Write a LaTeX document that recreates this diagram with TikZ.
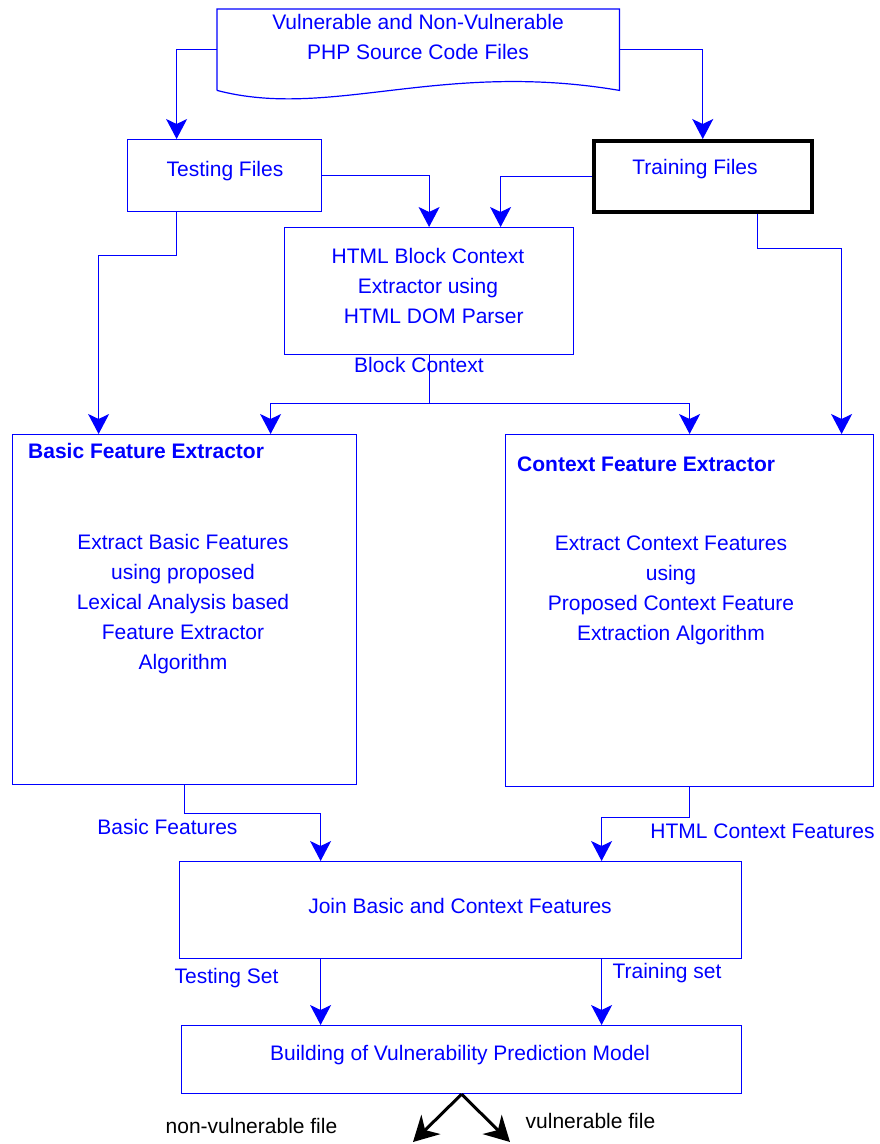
\documentclass[tikz,border=0pt]{standalone}
\usepackage{fontspec}
\setmainfont{Liberation Sans}
\usetikzlibrary{arrows.meta,calc}
\definecolor{fblue}{RGB}{0,0,255}
\begin{document}
\begin{tikzpicture}[x=1pt,y=-1pt,
  font=\fontsize{21}{30}\selectfont,
  box/.style={draw=fblue, line width=1.2pt, rectangle, inner sep=0pt, anchor=north west, text=fblue, align=center},
  txt/.style={text=fblue, inner sep=0pt, align=center},
  btxt/.style={text=black, inner sep=0pt, align=center},
  arr/.style={draw=fblue, line width=1.2pt, -{Stealth[length=20pt,width=21pt,inset=5pt]}},
  blk/.style={draw=black, line width=3pt, -{Stealth[length=25pt,width=27pt,inset=8pt]}}]
\useasboundingbox (0,0) rectangle (880,1144);

% document shape
\node[draw=none, inner sep=0pt, minimum width=402pt, minimum height=81pt, anchor=north west] (doc) at (217,9) {};
\draw[fblue, line width=1.2pt] (doc.south west) -- (doc.north west) -- (doc.north east) -- (doc.south east)
  .. controls (440,60) and (330,120) .. (doc.south west);
\node[txt] (doctext) at (418,37) {Vulnerable and Non-Vulnerable\\PHP Source Code Files};

% boxes
\node[box, minimum width=194pt, minimum height=72pt] (test) at (127,139) {};
\node[box, draw=black, line width=3.5pt, minimum width=218pt, minimum height=71pt] (train) at (592,139) {};
\node[box, minimum width=289pt, minimum height=127pt] (block) at (284,227) {};
\node[box, minimum width=344pt, minimum height=350pt] (basic) at (12,434) {};
\node[box, minimum width=368pt, minimum height=352pt] (ctx) at (505,434) {};
\node[box, minimum width=562pt, minimum height=97pt] (join) at (179,861) {};
\node[box, minimum width=560pt, minimum height=68pt] (build) at (181,1025) {};

% texts inside the boxes
\node[txt] (testtext) at (225,171) {Testing Files};
\node[txt] (traintext) at (695,169) {Training Files};
\node[txt] (blocktext) at (428,286) {HTML Block Context\\Extractor using\\\ \ HTML DOM Parser};
\node[txt] (jointext) at (460,906) {Join Basic and Context Features};
\node[txt] (buildtext) at (460,1055) {Building of Vulnerability Prediction Model};
\node[txt, anchor=west, font=\fontsize{21}{30}\selectfont\bfseries] (basictitle) at (28,451) {Basic Feature Extractor};
\node[txt] (basicbody) at (183,604) {Extract Basic Features\\using proposed\\Lexical Analysis based\\Feature Extractor\\Algorithm};
\node[txt, anchor=west, font=\fontsize{21}{30}\selectfont\bfseries] (ctxtitle) at (517,464) {Context Feature Extractor};
\node[txt] (ctxbody) at (671,590) {Extract Context Features\\using\\Proposed Context Feature\\Extraction Algorithm};

% connectors
\draw[arr] (doc.west) -| ([xshift=-48pt]test.north);
\draw[arr] (doc.east) -| (train.north);
\draw[arr] (test.east) -| (block.north);
\draw[arr] (train.west) -| ([xshift=71.5pt]block.north);
\draw[arr] ([xshift=-48pt]test.south) -- ++(0,43) -| ([xshift=-86pt]basic.north);
\draw[arr] ([xshift=55pt]train.south) -- ++(0,35) -| ([xshift=152pt]ctx.north);
\draw[arr] (block.south) -- ++(0,48) coordinate (split) -| ([xshift=86pt]basic.north);
\draw[arr] (split) -| (ctx.north);
\draw[arr] (basic.south) -- ++(0,28) -| ([xshift=-140pt]join.north);
\draw[arr] (ctx.south) -- ++(0,30) -| ([xshift=141pt]join.north);
\draw[arr] ([xshift=-140pt]join.south) -- ([xshift=-140pt]join.south |- build.north);
\draw[arr] ([xshift=141pt]join.south) -- ([xshift=141pt]join.south |- build.north);

\coordinate (nv) at (413,1142);
\coordinate (v) at (510,1142);
\draw[blk] (build.south) -- (nv);
\draw[blk] (build.south) -- (v);

% labels
\node[txt] (lblock) at (419,365) {Block Context};
\node[txt] (lbasic) at (167.5,827) {Basic Features};
\node[txt] (lctx) at (762.5,831) {HTML Context Features};
\node[txt] (ltest) at (226.5,978) {Testing Set};
\node[txt] (ltrain) at (667,973) {Training set};
\node[btxt] (lnv) at (251.5,1126) {non-vulnerable file};
\node[btxt] (lv) at (590.5,1121) {vulnerable file};
\end{tikzpicture}
\end{document}
